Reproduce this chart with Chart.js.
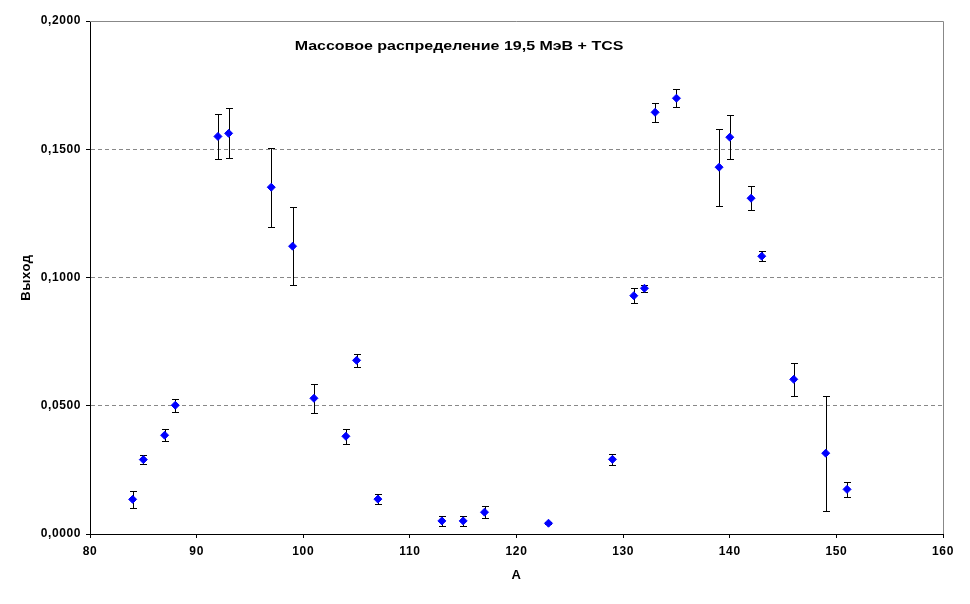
<!DOCTYPE html>
<html>
<head>
<meta charset="utf-8">
<script src="https://cdn.jsdelivr.net/npm/chart.js@4/dist/chart.umd.min.js"></script>
<style>
  body { margin: 0; background: #fff; }
  canvas { display: block; }
</style>
</head>
<body>
<canvas id="chart" width="970" height="604"></canvas>
<script>
// массовые числа
const massA = [84, 85, 87, 88, 92, 93, 97, 99, 101, 104, 105, 107, 113, 115, 117, 123, 129, 131, 132, 133, 135, 139, 140, 142, 143, 146, 149, 151];
// выход
const yieldV = [0.0135, 0.0290, 0.0385, 0.0502, 0.1550, 0.1562, 0.1352, 0.1122, 0.0529, 0.0381, 0.0677, 0.0136, 0.0051, 0.0051, 0.0085, 0.0042, 0.0291, 0.0929, 0.0958, 0.1644, 0.1699, 0.1430, 0.1547, 0.1309, 0.1083, 0.0603, 0.0315, 0.0174];
// погрешности
const errV = [0.0033, 0.0018, 0.0023, 0.0025, 0.0087, 0.0098, 0.0154, 0.0152, 0.0057, 0.0029, 0.0024, 0.0018, 0.0020, 0.0021, 0.0023, 0.0004, 0.0022, 0.0030, 0.0013, 0.0037, 0.0035, 0.0150, 0.0086, 0.0047, 0.0020, 0.0064, 0.0224, 0.0029];

const chartTitle = "Массовое распределение 19,5 МэВ + TCS";
const FONT = "'Liberation Sans', Arial, sans-serif";

const points = massA.map((a, i) => ({ x: a, y: yieldV[i] }));

// рамка, заголовок и планки погрешностей
const extras = {
  id: "extras",
  beforeDraw(chart) {
    // подписи в оригинале чуть шире
    chart.ctx.letterSpacing = "0.6px";
  },
  beforeDatasetsDraw(chart) {
    const { ctx, chartArea, scales } = chart;
    ctx.save();
    ctx.strokeStyle = "#888";
    ctx.lineWidth = 1;
    ctx.beginPath();
    ctx.moveTo(chartArea.left, chartArea.top + 0.5);
    ctx.lineTo(chartArea.right + 0.5, chartArea.top + 0.5);
    ctx.lineTo(chartArea.right + 0.5, chartArea.bottom);
    ctx.stroke();

    ctx.strokeStyle = "#000";
    points.forEach((p, i) => {
      const x = Math.round(scales.x.getPixelForValue(p.x)) + 0.5;
      const yTop = Math.round(scales.y.getPixelForValue(p.y + errV[i])) + 0.5;
      const yBot = Math.round(scales.y.getPixelForValue(p.y - errV[i])) + 0.5;
      ctx.beginPath();
      ctx.moveTo(x, yTop);
      ctx.lineTo(x, yBot);
      ctx.moveTo(x - 3.5, yTop);
      ctx.lineTo(x + 3.5, yTop);
      ctx.moveTo(x - 3.5, yBot);
      ctx.lineTo(x + 3.5, yBot);
      ctx.stroke();
    });

    // заголовок внутри области графика, растянут по ширине как в Excel
    ctx.fillStyle = "#000";
    ctx.font = "bold 13px " + FONT;
    ctx.letterSpacing = "0px";
    ctx.textAlign = "center";
    ctx.textBaseline = "middle";
    ctx.translate(chartArea.left + 369, chartArea.top + 25);
    ctx.scale(1.23, 1);
    ctx.fillText(chartTitle, 0, 0);
    ctx.restore();
  },
};

new Chart(document.getElementById("chart"), {
  type: "scatter",
  data: {
    datasets: [
      {
        data: points,
        pointStyle: "rectRot",
        pointRadius: 4,
        pointHoverRadius: 4,
        backgroundColor: "#0000FF",
        borderColor: "#0000FF",
        borderWidth: 1,
      },
    ],
  },
  options: {
    responsive: false,
    animation: false,
    layout: { padding: { left: 0, right: 27, top: 21, bottom: 0 } },
    plugins: { legend: { display: false }, tooltip: { enabled: false } },
    scales: {
      x: {
        type: "linear",
        min: 80,
        max: 160,
        ticks: { stepSize: 10, color: "#000", font: { family: FONT, size: 12, weight: "bold" }, padding: 6 },
        grid: { drawOnChartArea: false, drawTicks: true, tickLength: 4, tickColor: "#000" },
        border: { color: "#000", width: 1 },
        title: { display: true, text: "A", color: "#000", font: { family: FONT, size: 13, weight: "bold" }, padding: { top: 0, bottom: 21 } },
        afterFit(scale) { scale.height = 70; },
      },
      y: {
        min: 0,
        max: 0.2,
        ticks: {
          stepSize: 0.05,
          color: "#000",
          font: { family: FONT, size: 12, weight: "bold" },
          padding: 5,
          callback: (v) => v.toFixed(4).replace(".", ","),
        },
        grid: {
          color: (c) => (c.tick && c.tick.value > 0 && c.tick.value < 0.2 ? "#888" : "rgba(0,0,0,0)"),
          tickColor: "#000",
          tickLength: 4,
        },
        border: { color: "#000", width: 1, dash: [4, 3] },
        title: { display: true, text: "Выход", color: "#000", font: { family: FONT, size: 13, weight: "bold" }, padding: { top: 19, bottom: 0 } },
        afterFit(scale) { scale.width = 90; },
      },
    },
  },
  plugins: [extras],
});
</script>
</body>
</html>
